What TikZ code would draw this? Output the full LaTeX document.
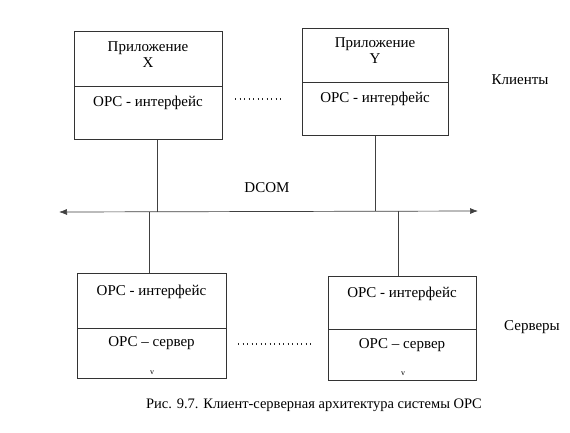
\documentclass[tikz,border=0pt]{standalone}
\usepackage{fontspec}
\setmainfont{Liberation Serif}
\usetikzlibrary{arrows.meta}
\begin{document}
\begin{tikzpicture}[x=1pt,y=-1pt,
  part/.style={draw=black!80, line width=0.8pt, inner sep=0pt, anchor=north west},
  txt/.style={inner sep=0pt, anchor=base, font=\fontsize{15}{17}\selectfont},
  captiontxt/.style={inner sep=0pt, anchor=base, font=\fontsize{14.5}{17}\selectfont},
  wire/.style={draw=black!75, line width=0.7pt},
  dotline/.style={draw=black!85, line width=1.1pt, dash pattern=on 1.1pt off 3.4pt},
  ticktxt/.style={inner sep=0pt, anchor=base, font=\fontsize{8}{8}\selectfont}]
\useasboundingbox[fill=white] (0,0) rectangle (570,432);
% top-left client box
\node[part, minimum width=148pt, minimum height=55pt] (xapp) at (74,31) {};
\node[part, minimum width=148pt, minimum height=53pt] (xint) at (74,86) {};
\node[txt] (xappT1) at (148,51.5) {Приложение};
\node[txt] (xappT2) at (148,67) {X};
\node[txt] (xintT) at (148,106) {OPC - интерфейс};
% top-right client box
\node[part, minimum width=146pt, minimum height=54pt] (yapp) at (302,28) {};
\node[part, minimum width=146pt, minimum height=53pt] (yint) at (302,82) {};
\node[txt] (yappT1) at (375,47.5) {Приложение};
\node[txt] (yappT2) at (375,63) {Y};
\node[txt] (yintT) at (375,102) {OPC - интерфейс};
% bottom-left server box
\node[part, minimum width=149pt, minimum height=55pt] (aint) at (77,273) {};
\node[part, minimum width=149pt, minimum height=50pt] (asrv) at (77,328) {};
\node[txt] (aintT) at (151.5,295) {OPC - интерфейс};
\node[txt] (asrvT) at (151.5,346.5) {OPC – сервер};
\node[ticktxt] (amark) at (152,374) {v};
% bottom-right server box
\node[part, minimum width=148pt, minimum height=53pt] (bint) at (328,276) {};
\node[part, minimum width=148pt, minimum height=51pt] (bsrv) at (328,329) {};
\node[txt] (bintT) at (402,297) {OPC - интерфейс};
\node[txt] (bsrvT) at (402,348) {OPC – сервер};
\node[ticktxt] (bmark) at (403,375) {v};
% bus
\coordinate (busL) at (59,212);
\coordinate (busR) at (478,211);
\draw[wire, {Latex[length=8pt,width=6pt]}-{Latex[length=8pt,width=6pt]}] (busL) -- (busR);
\node[txt] (dcom) at (267,192) {DCOM};
\coordinate (jx) at (157,212);
\coordinate (jy) at (375,211);
\coordinate (ja) at (149,212);
\coordinate (jb) at (398,211);
\draw[wire] (xint.south -| jx) -- (jx);
\draw[wire] (yint.south -| jy) -- (jy);
\draw[wire] (ja) -- (aint.north -| ja);
\draw[wire] (jb) -- (bint.north -| jb);
% dots
\coordinate (d1a) at (235,99);
\coordinate (d1b) at (281,99);
\draw[dotline] (d1a) -- (d1b);
\coordinate (d2a) at (238,344);
\coordinate (d2b) at (312,344);
\draw[dotline] (d2a) -- (d2b);
% side labels
\node[txt] (clients) at (520,84) {Клиенты};
\node[txt] (servers) at (532,330) {Серверы};
% caption
\node[captiontxt] (caption) at (314,408) {Рис. 9.7. Клиент-серверная архитектура системы OPC};
\end{tikzpicture}
\end{document}
